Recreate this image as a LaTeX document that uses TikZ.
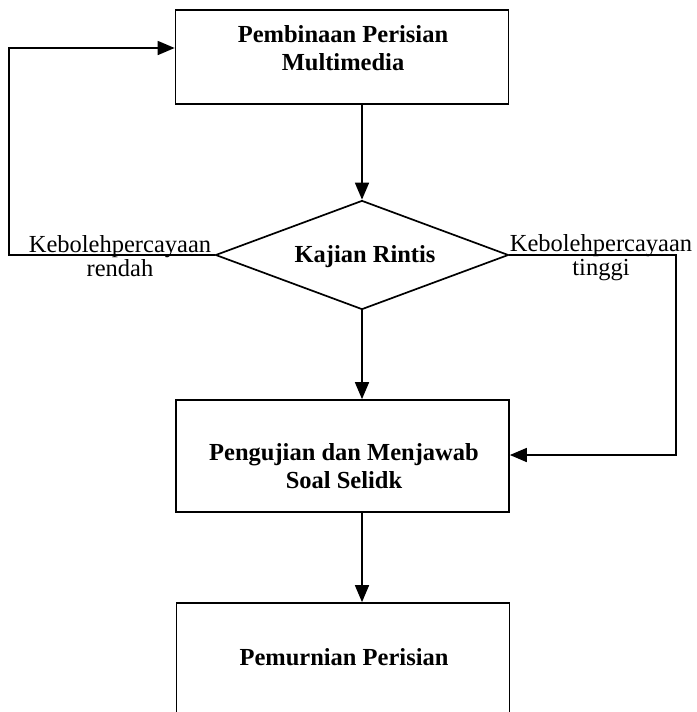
\documentclass[tikz,border=0pt]{standalone}
\usepackage{fontspec}
\setmainfont{Liberation Serif}
\usetikzlibrary{shapes.geometric,arrows.meta}
\begin{document}
\begin{tikzpicture}[x=1pt,y=-1pt,
  boxshape/.style={draw,rectangle,line width=1.7pt,inner sep=0pt,minimum width=333pt},
  boxtext/.style={font=\fontsize{24.5}{28}\selectfont\bfseries,align=center,inner sep=0pt},
  lbl/.style={font=\fontsize{24.5}{24}\selectfont,align=center,inner sep=0pt},
  arr/.style={-{Triangle[length=17pt,width=14pt]},line width=1.6pt}]
\useasboundingbox (0,0) rectangle (696,712);
\clip (0,0) rectangle (696,712);
% boxes
\node[boxshape,minimum height=94pt] (b1) at (342,57) {};
\node[boxtext] (b1t) at (343,48) {Pembinaan Perisian\\Multimedia};
\node[draw,diamond,aspect=2.69,minimum width=293pt,minimum height=109pt,inner sep=0pt,line width=1.7pt] (d) at (362,255) {};
\node[boxtext] (dt) at (365,257) {Kajian Rintis};
\node[boxshape,minimum height=112pt] (b2) at (342.5,456) {};
\node[boxtext] (b2t) at (344,466) {Pengujian dan Menjawab\\Soal Selidk};
\node[boxshape,minimum height=127pt] (b3) at (343,666.5) {};
\node[boxtext] (b3t) at (344,657) {Pemurnian Perisian};
% labels
\node[lbl] (ll) at (120,256) {Kebolehpercayaan\\rendah};
\node[lbl] (rl) at (601,258) {Kebolehpercayaan\\tinggi};
% connectors
\coordinate (lt) at (9,48);
\coordinate (rt) at (676,455);
\draw[arr] (b1.south -| d.north) -- (d.north);
\draw[arr] (d.south) -- (d.south |- b2.north);
\draw[arr] (b2.south -| d.south) -- (d.south |- b3.north);
\draw[arr] (d.west) -| (lt) -- (lt -| b1.west);
\draw[arr] (d.east) -| (rt) -- (rt -| b2.east);
\end{tikzpicture}
\end{document}
